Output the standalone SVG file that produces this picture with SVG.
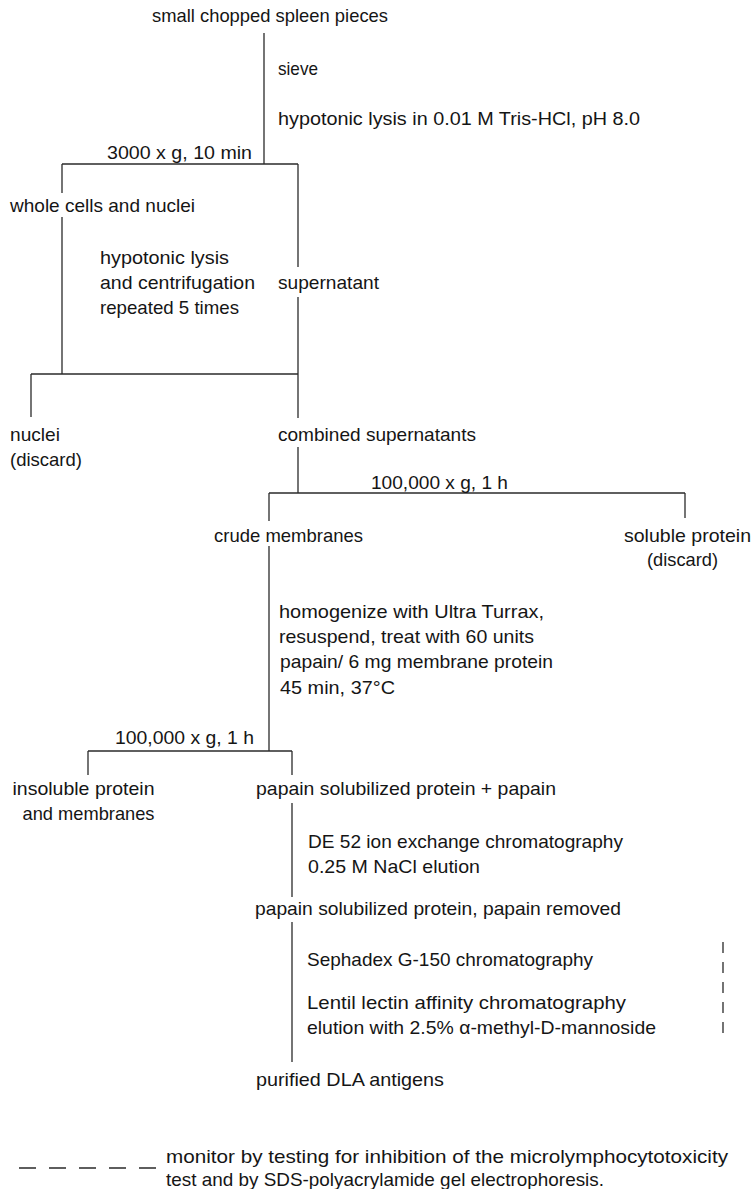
<svg xmlns="http://www.w3.org/2000/svg" width="755" height="1189" viewBox="0 0 755 1189">
<style>
text{font-family:"Liberation Sans",Arial,sans-serif;font-size:19px;fill:#151515}
.c line{stroke:#2a2a2a;stroke-width:1.3;fill:none}
.d{stroke:#2a2a2a;stroke-width:1.3;fill:none}
</style>
<rect width="755" height="1189" fill="#ffffff"/>

<g id="connectors" class="c">
  <line x1="264" y1="33" x2="264" y2="164"/>
  <line x1="62" y1="164" x2="298" y2="164"/>
  <line x1="62" y1="164" x2="62" y2="193"/>
  <line x1="62" y1="217" x2="62" y2="374"/>
  <line x1="298" y1="164" x2="298" y2="267"/>
  <line x1="298" y1="297" x2="298" y2="418"/>
  <line x1="31" y1="374" x2="298" y2="374"/>
  <line x1="31" y1="374" x2="31" y2="417"/>
  <line x1="298" y1="447" x2="298" y2="493"/>
  <line x1="269" y1="493" x2="685" y2="493"/>
  <line x1="269" y1="493" x2="269" y2="521"/>
  <line x1="685" y1="493" x2="685" y2="518"/>
  <line x1="269" y1="546" x2="269" y2="751"/>
  <line x1="88" y1="751" x2="292" y2="751"/>
  <line x1="88" y1="751" x2="88" y2="775"/>
  <line x1="292" y1="751" x2="292" y2="775"/>
  <line x1="292" y1="803" x2="292" y2="897"/>
  <line x1="292" y1="922" x2="292" y2="1062"/>
  <line class="d" x1="723" y1="942" x2="723" y2="1035" stroke-dasharray="11 9"/>
</g>

<g id="step-labels">
  <text x="278" y="74.5" textLength="40" lengthAdjust="spacingAndGlyphs">sieve</text>
  <text x="278" y="124.5" textLength="362" lengthAdjust="spacingAndGlyphs">hypotonic lysis in 0.01 M Tris-HCl, pH 8.0</text>
  <text x="107" y="159" textLength="145" lengthAdjust="spacingAndGlyphs">3000 x g, 10 min</text>
  <text x="100" y="263.5" textLength="129" lengthAdjust="spacingAndGlyphs">hypotonic lysis</text>
  <text x="100" y="288.5" textLength="155" lengthAdjust="spacingAndGlyphs">and centrifugation</text>
  <text x="100" y="313.5" textLength="139" lengthAdjust="spacingAndGlyphs">repeated 5 times</text>
  <text x="371" y="488.5" textLength="137" lengthAdjust="spacingAndGlyphs">100,000 x g, 1 h</text>
  <text x="279" y="617.5" textLength="265" lengthAdjust="spacingAndGlyphs">homogenize with Ultra Turrax,</text>
  <text x="279" y="642.5" textLength="255" lengthAdjust="spacingAndGlyphs">resuspend, treat with 60 units</text>
  <text x="280" y="667.5" textLength="273" lengthAdjust="spacingAndGlyphs">papain/ 6 mg membrane protein</text>
  <text x="280" y="693.5" textLength="115" lengthAdjust="spacingAndGlyphs">45 min, 37°C</text>
  <text x="115" y="744" textLength="139" lengthAdjust="spacingAndGlyphs">100,000 x g, 1 h</text>
  <text x="308" y="847.5" textLength="315" lengthAdjust="spacingAndGlyphs">DE 52 ion exchange chromatography</text>
  <text x="308" y="872.5" textLength="172" lengthAdjust="spacingAndGlyphs">0.25 M NaCl elution</text>
  <text x="307" y="965.5" textLength="286" lengthAdjust="spacingAndGlyphs">Sephadex G-150 chromatography</text>
  <text x="307" y="1008.5" textLength="319" lengthAdjust="spacingAndGlyphs">Lentil lectin affinity chromatography</text>
  <text x="307" y="1033.5" textLength="349" lengthAdjust="spacingAndGlyphs">elution with 2.5% α-methyl-D-mannoside</text>
</g>

<g id="spleen-pieces"><text x="152" y="22" textLength="236" lengthAdjust="spacingAndGlyphs">small chopped spleen pieces</text></g>
<g id="whole-cells"><text x="10" y="211.5" textLength="185" lengthAdjust="spacingAndGlyphs">whole cells and nuclei</text></g>
<g id="supernatant"><text x="278" y="288.5" textLength="101" lengthAdjust="spacingAndGlyphs">supernatant</text></g>
<g id="nuclei-discard">
  <text x="10" y="440.5" textLength="50" lengthAdjust="spacingAndGlyphs">nuclei</text>
  <text x="10" y="465.5" textLength="72" lengthAdjust="spacingAndGlyphs">(discard)</text>
</g>
<g id="combined-supernatants"><text x="278" y="440.5" textLength="198" lengthAdjust="spacingAndGlyphs">combined supernatants</text></g>
<g id="crude-membranes"><text x="214" y="541.5" textLength="149" lengthAdjust="spacingAndGlyphs">crude membranes</text></g>
<g id="soluble-protein">
  <text x="624" y="541.5" textLength="127" lengthAdjust="spacingAndGlyphs">soluble protein</text>
  <text x="647" y="565.5" textLength="71" lengthAdjust="spacingAndGlyphs">(discard)</text>
</g>
<g id="insoluble-protein">
  <text x="12.5" y="795" textLength="142" lengthAdjust="spacingAndGlyphs">insoluble protein</text>
  <text x="22.5" y="820" textLength="132" lengthAdjust="spacingAndGlyphs">and membranes</text>
</g>
<g id="papain-solubilized"><text x="256" y="795" textLength="300" lengthAdjust="spacingAndGlyphs">papain solubilized protein + papain</text></g>
<g id="papain-removed"><text x="255" y="914.5" textLength="366" lengthAdjust="spacingAndGlyphs">papain solubilized protein, papain removed</text></g>
<g id="purified-dla"><text x="256" y="1086" textLength="188" lengthAdjust="spacingAndGlyphs">purified DLA antigens</text></g>

<g id="legend">
  <line class="d" x1="19" y1="1168" x2="156" y2="1168" stroke-dasharray="17 13"/>
  <text x="166" y="1162.5" textLength="562" lengthAdjust="spacingAndGlyphs">monitor by testing for inhibition of the microlymphocytotoxicity</text>
  <text x="166" y="1185.5" textLength="438" lengthAdjust="spacingAndGlyphs">test and by SDS-polyacrylamide gel electrophoresis.</text>
</g>
</svg>
